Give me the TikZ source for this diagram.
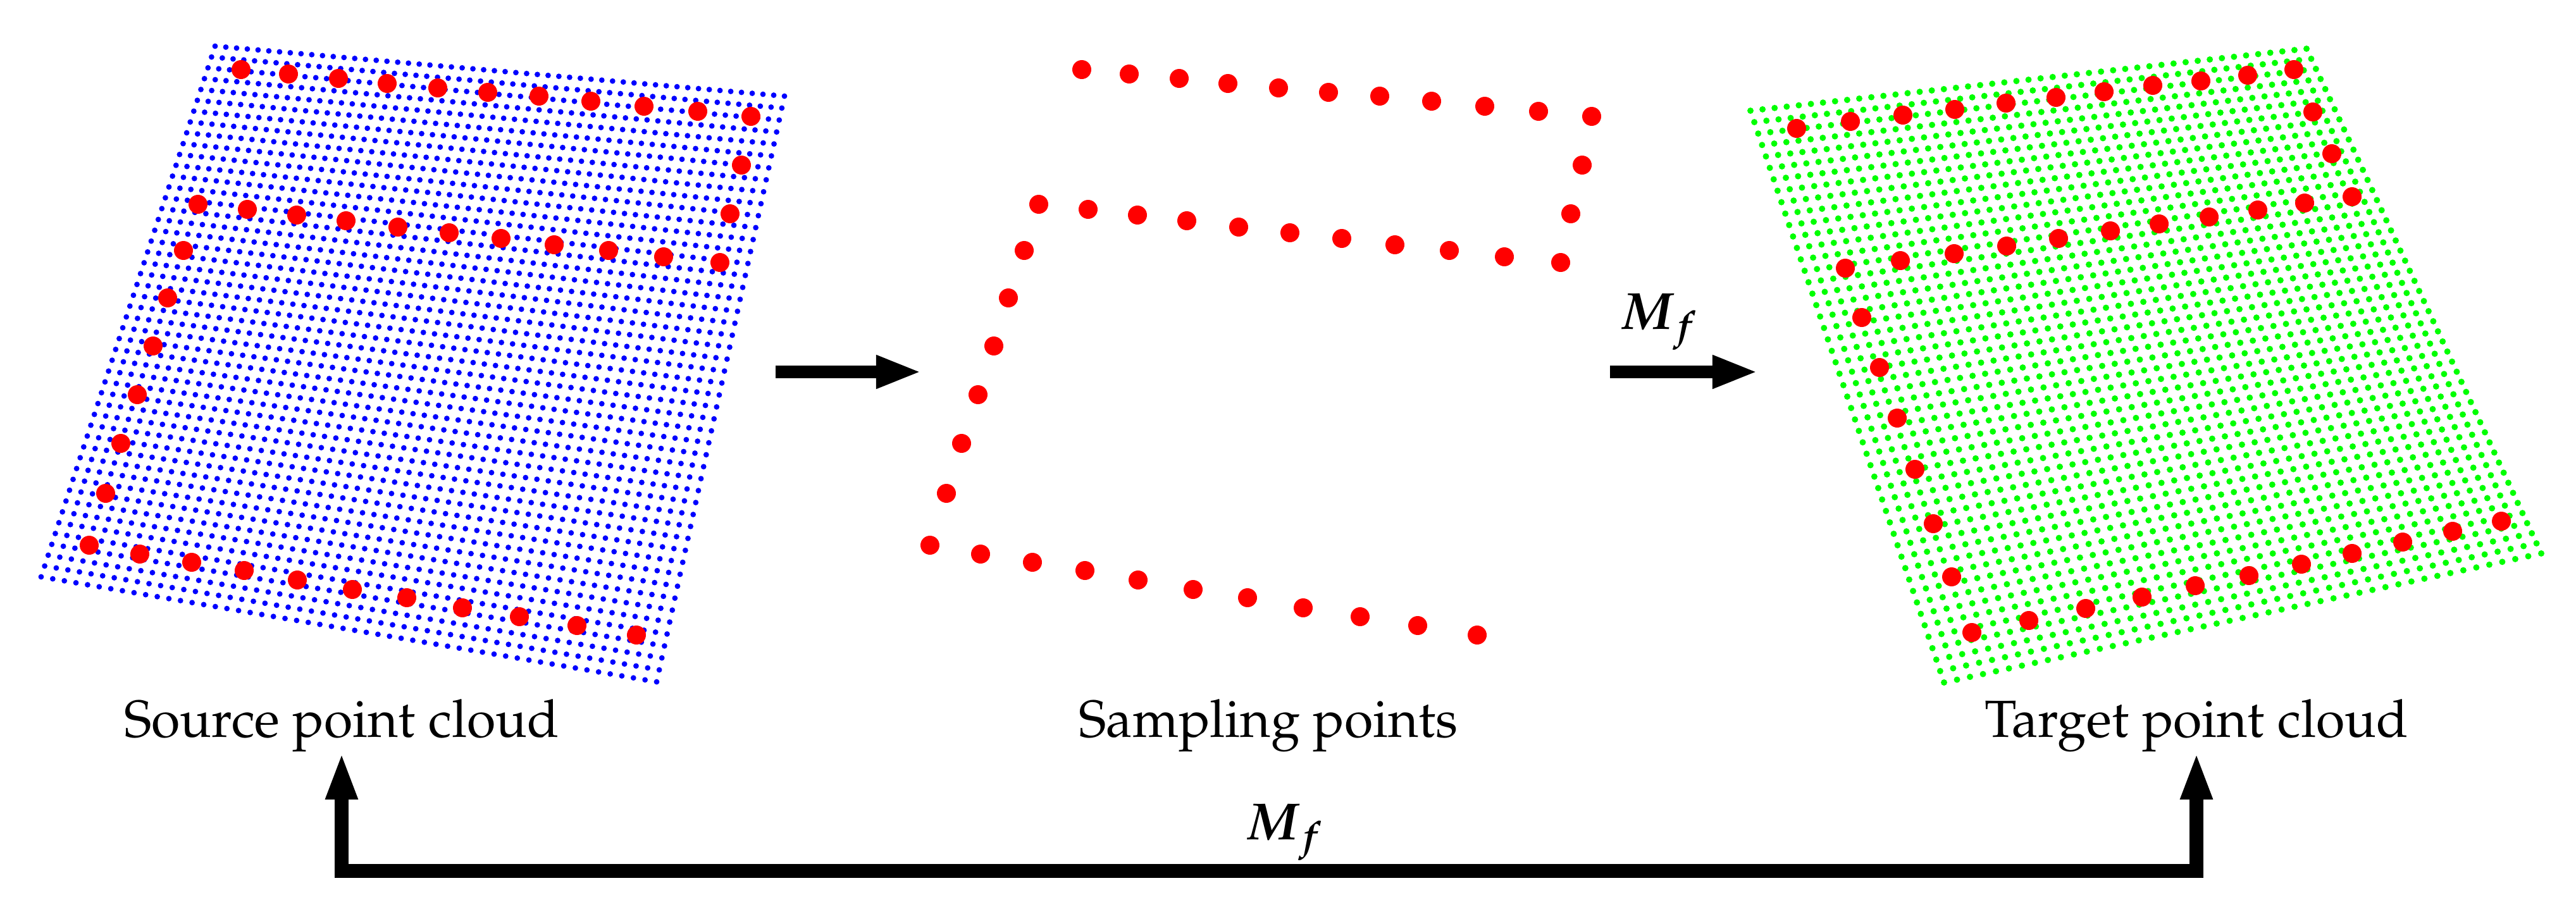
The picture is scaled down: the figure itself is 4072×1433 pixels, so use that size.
\documentclass[tikz,border=0pt]{standalone}
\usepackage[T1]{fontenc}
\usepackage{mathpazo}
\usepackage{bm}
\usetikzlibrary{calc,arrows.meta}

\begin{document}
\begin{tikzpicture}[x=0.01cm,y=-0.01cm,
    lbl/.style={font=\fontsize{23.5}{28}\selectfont, inner sep=0pt, anchor=base},
    bigarrow/.style={line width=5.7pt, -{Triangle[length=0.72cm,width=0.48cm]}},
    looparrow/.style={line width=6.3pt, {Triangle[length=0.75cm,width=0.46cm]}-{Triangle[length=0.75cm,width=0.46cm]}}]
    \useasboundingbox (0,0) rectangle (4072,1433);
    \coordinate (sTL) at (340,73);
    \coordinate (sTR) at (1240,152);
    \coordinate (sBL) at (65,912);
    \coordinate (sBR) at (1038,1078);
    \coordinate (gTL) at (2767,175);
    \coordinate (gTR) at (3646,77);
    \coordinate (gBL) at (3073,1079);
    \coordinate (gBR) at (4017,875);
    \foreach \i in {0,...,53}
    { \foreach \j in {0,...,49}
    {   \fill[blue] ($($(sTL)!\i/53!(sTR)$)!\j/49!($(sBL)!\i/53!(sBR)$)$) circle (4.4);
    }
    }
    \foreach \i in {0,...,46}
    { \foreach \j in {0,...,50}
    {   \fill[green] ($($(gTL)!\i/46!(gTR)$)!\j/50!($(gBL)!\i/46!(gBR)$)$) circle (5);
    }
    }
    \foreach \dx in {0,1329}
    { \foreach \x/\y in {381/110,456/117,535/124,612/132,692/139,771/146,852/152,934/160,1018/168,1103/176,1187/184,
        1172/261,1154/338,
        1138/415,1049/406,962/396,876/387,792/377,710/368,629/359,547/349,469/340,391/331,313/323,
        290/396,265/471,242/547,217/624,191/701,167/780,
        141/862,221/876,303/889,386/902,470/917,557/932,643/945,731/961,821/975,912/989,1006/1004}
    {   \fill[red] (\x+\dx,\y) circle (15);
    }
    }
    \foreach \x/\y in {2840/203,2925/192,3008/182,3090/173,3171/163,3250/154,3326/145,3403/135,3479/128,3553/119,3626/110,
        3656/177,3686/243,
        3718/311,3643/321,3569/332,3492/343,3413/354,3336/365,3254/377,3172/389,3089/401,3004/412,2917/424,
        2943/502,2971/581,2999/661,3027/742,3056/828,3085/912,
        3117/1000,3207/981,3297/962,3386/944,3470/926,3555/910,3638/892,3718/875,3798/857,3877/840,3954/824}
    {   \fill[red] (\x,\y) circle (15);
    }
    \coordinate (a1s) at (1226,588);
    \coordinate (a1e) at (1457,588);
    \coordinate (a2s) at (2545,588);
    \coordinate (a2e) at (2779,588);
    \draw[bigarrow] (a1s) -- (a1e);
    \draw[bigarrow] (a2s) -- (a2e);
    \node[lbl] (mtop) at (2622,520) {$\bm{M_f}$};
    \node[lbl] (srclbl) at (540,1165) {Source point cloud};
    \node[lbl] (smplbl) at (2005,1165) {Sampling points};
    \node[lbl] (tgtlbl) at (3472,1165) {Target point cloud};
    \coordinate (bar) at (2030,1377);
    \node[lbl] (mbot) at (2030,1327) {$\bm{M_f}$};
    \draw[looparrow] (srclbl.south) |- (bar) -| (tgtlbl.south);
\end{tikzpicture}
\end{document}
